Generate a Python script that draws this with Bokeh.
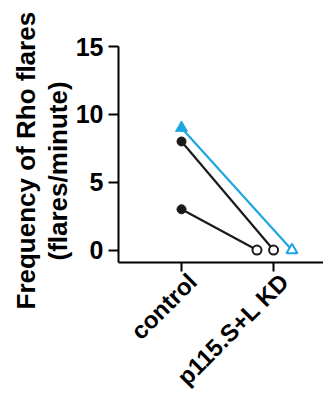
import math
from bokeh.plotting import figure
from bokeh.models import FixedTicker, Range1d, Title
from bokeh.embed import file_html
from bokeh.resources import INLINE

categories = ["control", "p115.S+L KD"]
cat_pos = [1, 2]
black_series = [[8, 0], [3, 0]]
black_kd_offsets = [0.0, -0.18]
blue_series = [9, 0]
blue_kd_offset = 0.2
y_ticks = [0, 5, 10, 15]

BLUE = "#1BA6E0"
FONT = "Liberation Sans"
LABEL_SHIFT = 0.12  # horizontal shift of rotated category labels (data units)

p = figure(width=323, height=402, output_backend="svg", toolbar_location=None,
           x_range=Range1d(0.315, 2.543), y_range=Range1d(-0.92, 15),
           min_border_left=118, min_border_right=0, min_border_top=46,
           min_border_bottom=139)
p.outline_line_color = None
p.grid.visible = False
p.background_fill_color = "white"

for ys, off in zip(black_series, black_kd_offsets):
    xs = [cat_pos[0], cat_pos[1] + off]
    p.line(xs, ys, line_color="#1a1a1a", line_width=2.2)
    p.scatter([xs[0]], [ys[0]], marker="circle", size=9, fill_color="#1a1a1a",
              line_color="#1a1a1a", line_width=1)
    p.scatter([xs[1]], [ys[1]], marker="circle", size=9, fill_color="white",
              line_color="#1a1a1a", line_width=2)

bx = [cat_pos[0], cat_pos[1] + blue_kd_offset]
p.line(bx, blue_series, line_color=BLUE, line_width=2.2)
p.scatter([bx[0]], [blue_series[0]], marker="triangle", size=12, fill_color=BLUE,
          line_color=BLUE, line_width=1)
p.scatter([bx[1]], [blue_series[1]], marker="triangle", size=11, fill_color="white",
          line_color=BLUE, line_width=2)

for ax in (p.xaxis[0], p.yaxis[0]):
    ax.axis_line_width = 2
    ax.axis_line_color = "black"
    ax.major_tick_in = 0
    ax.major_label_text_font = FONT
    ax.major_label_text_font_style = "bold"
    ax.major_label_text_color = "black"

p.yaxis.ticker = FixedTicker(ticks=y_ticks)
p.yaxis.major_label_text_font_size = "25px"
p.yaxis.major_tick_out = 10
p.yaxis.major_tick_line_width = 2
p.yaxis.major_tick_line_color = "black"
p.yaxis.minor_tick_line_color = None
p.yaxis.major_label_standoff = 5

# category tick marks drawn as minor ticks at the category positions,
# labels drawn at the (slightly shifted) major tick positions
label_pos = [c + LABEL_SHIFT for c in cat_pos]
p.xaxis.ticker = FixedTicker(ticks=label_pos, minor_ticks=cat_pos)
p.xaxis.major_label_overrides = {lp: n for lp, n in zip(label_pos, categories)}
p.xaxis.major_label_text_font_size = "24px"
p.xaxis.major_tick_line_color = None
p.xaxis.major_tick_out = 0
p.xaxis.minor_tick_line_color = "black"
p.xaxis.minor_tick_line_width = 2
p.xaxis.minor_tick_in = 0
p.xaxis.minor_tick_out = 9
p.xaxis.major_label_orientation = math.pi / 4
p.xaxis.major_label_standoff = 6

p.add_layout(Title(text="(flares/minute)", align="left", offset=2, standoff=0,
                   text_font=FONT, text_font_style="bold", text_font_size="26px",
                   text_color="black"), "left")
p.add_layout(Title(text="Frequency of Rho flares", align="left", offset=-47, standoff=0,
                   text_font=FONT, text_font_style="bold", text_font_size="26px",
                   text_color="black"), "left")

open("out.html", "w").write(file_html(p, INLINE))
